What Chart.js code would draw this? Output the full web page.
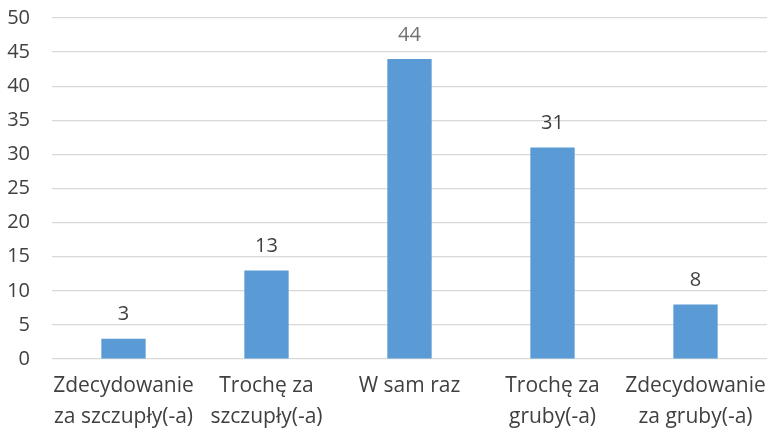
<!DOCTYPE html>
<html lang="pl">
<head>
<meta charset="UTF-8">
<title>Ocena sylwetki</title>
<script src="https://cdn.jsdelivr.net/npm/chart.js"></script>
<style>
  html, body { margin: 0; padding: 0; background: #fff; }
  #wrap { width: 767px; height: 434px; }
</style>
</head>
<body>
<div id="wrap"><canvas id="chart" width="767" height="434"></canvas></div>
<script>
const categories = [
  ['Zdecydowanie', 'za szczupły(-a)'],
  ['Trochę za', 'szczupły(-a)'],
  'W sam raz',
  ['Trochę za', 'gruby(-a)'],
  ['Zdecydowanie', 'za gruby(-a)']
];
const counts = [3, 13, 44, 31, 8];
const yTicks = [0, 5, 10, 15, 20, 25, 30, 35, 40, 45, 50];

const fontFamily = '"Open Sans", Lato, "Liberation Sans", sans-serif';

// draws the value above each bar
const barLabels = {
  id: 'barLabels',
  afterDatasetsDraw(chart) {
    const ctx = chart.ctx;
    const meta = chart.getDatasetMeta(0);
    ctx.save();
    ctx.font = '20px ' + fontFamily;
    ctx.textAlign = 'center';
    ctx.textBaseline = 'bottom';
    meta.data.forEach((bar, i) => {
      ctx.fillStyle = i === 2 ? '#707070' : '#404040';
      ctx.fillText(String(counts[i]), bar.x, bar.y - 14);
    });
    ctx.restore();
  }
};

new Chart(document.getElementById('chart'), {
  type: 'bar',
  data: {
    labels: categories,
    datasets: [{
      data: counts,
      backgroundColor: '#5b9bd5',
      categoryPercentage: 1,
      barPercentage: 0.31
    }]
  },
  options: {
    responsive: false,
    animation: false,
    layout: { padding: { top: 18, right: 0, left: 0, bottom: -10 } },
    plugins: { legend: { display: false }, tooltip: { enabled: false } },
    scales: {
      x: {
        afterFit(scale) { scale.paddingLeft = 0; scale.paddingRight = 0; },
        grid: { display: false, drawTicks: false },
        border: { display: false },
        ticks: {
          color: '#404040',
          font: { family: fontFamily, size: 21, lineHeight: 1.45 },
          padding: 12,
          maxRotation: 0,
          autoSkip: false
        }
      },
      y: {
        min: 0,
        max: 50,
        afterBuildTicks(axis) { axis.ticks = yTicks.map(v => ({ value: v })); },
        afterFit(scale) {
          scale.width = 52;
          scale.paddingTop = 0;
          scale.paddingBottom = 0;
        },
        grid: { color: '#d9d9d9', lineWidth: 1.3, drawTicks: false },
        border: { display: false },
        ticks: {
          color: '#404040',
          font: { family: fontFamily, size: 20 },
          padding: 22
        }
      }
    }
  },
  plugins: [barLabels]
});
</script>
</body>
</html>
